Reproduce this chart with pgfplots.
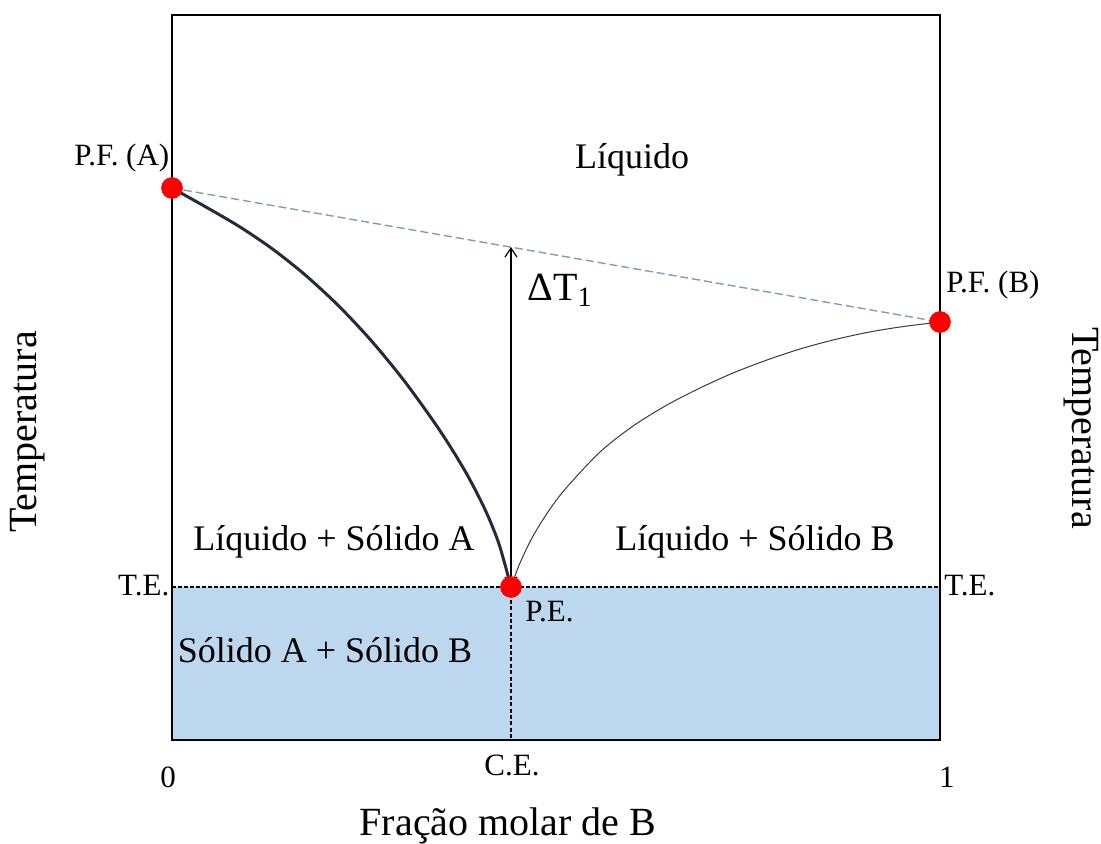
\documentclass[border=0pt]{standalone}
\usepackage{pgfplots}
\pgfplotsset{compat=1.18}
\usepackage{fontspec}
\setmainfont{Liberation Serif}
\usetikzlibrary{arrows.meta}

\definecolor{solidfill}{HTML}{BDD7EE}
\definecolor{tieline}{HTML}{7FA0AA}
\definecolor{curveA}{HTML}{262B3A}
\definecolor{curveB}{HTML}{3A3A3A}
\definecolor{pointred}{HTML}{FF0000}

\newcommand{\regionfont}{\fontsize{18}{20}\selectfont}
\newcommand{\labelfont}{\fontsize{15.5}{17}\selectfont}
\newcommand{\axisfont}{\fontsize{20}{22}\selectfont}

\begin{document}
\begin{tikzpicture}
\useasboundingbox (-86pt,-51.5pt) rectangle (464.5pt,370pt);
\begin{axis}[
  at={(0,0)}, anchor=south west,
  scale only axis,
  width=384pt, height=362.5pt,
  xmin=0, xmax=1, ymin=0, ymax=725,
  xtick=\empty, ytick=\empty,
  axis on top,
  axis line style={line width=1pt, black},
  clip=false,
]
% solid A + solid B region below the eutectic temperature
\addplot[fill=solidfill, draw=none] coordinates {(0,153) (1,153)} \closedcycle;

% eutectic temperature and composition
\addplot[black, line width=0.75pt, dash pattern=on 2pt off 1pt] coordinates {(0,153) (1,153)};
\addplot[black, line width=0.6pt, dash pattern=on 2pt off 1.2pt] coordinates {(0.4414,153) (0.4414,0)};

% line joining the melting points
\addplot[tieline, line width=0.7pt, dash pattern=on 4pt off 2pt] coordinates {(0,552) (1,418)};

% liquidus of A
\addplot[curveA, line width=1.5pt, smooth, tension=0.5] coordinates {
  (0,552) (0.043,533.5) (0.0872,513.7) (0.1302,491.4) (0.1732,465.2)
  (0.2174,433.8) (0.2604,398.5) (0.3034,358.1) (0.3477,310.7)
  (0.3815,269.1) (0.4076,230.5) (0.4258,195.9) (0.4414,153)
};

% liquidus of B
\addplot[curveB, line width=0.5pt, smooth, tension=0.5] coordinates {
  (0.4414,153) (0.4531,177) (0.4701,204) (0.4922,231) (0.5143,253)
  (0.5573,288) (0.6003,314) (0.6445,335) (0.6875,352) (0.7305,367)
  (0.7747,380) (0.8177,391) (0.8607,400) (0.9049,407.5) (0.9479,413) (1,418)
};

% melting points and eutectic point
\addplot[only marks, mark=*, mark size=5.2pt, pointred, mark options={draw=pointred, fill=pointred}]
  coordinates {(0,552) (1,418) (0.4414,153)};

% temperature depression
\addplot[black, line width=0.6pt,
  {Straight Barb[length=4.5pt,width=6pt]}-{Straight Barb[length=4.5pt,width=6pt]}]
  coordinates {(0.4414,153) (0.4414,493)};

% labels
\node[font=\regionfont] at (axis cs:0.599,580) {Líquido};
\node[font=\regionfont] at (axis cs:0.2109,198) {Líquido + Sólido A};
\node[font=\regionfont] at (axis cs:0.7591,198) {Líquido + Sólido B};
\node[font=\regionfont] at (axis cs:0.1992,90) {Sólido A + Sólido B};

\node[font=\labelfont, anchor=east, inner sep=0pt] at (axis cs:-0.003,582) {P.F. (A)};
\node[font=\labelfont, anchor=west, inner sep=0pt] at (axis cs:1.0078,455) {P.F. (B)};
\node[font=\axisfont, anchor=west, inner sep=0pt] at (axis cs:0.4622,450) {ΔT\textsubscript{1}};

\node[font=\labelfont, anchor=east, inner sep=0pt] at (axis cs:-0.003,154) {T.E.};
\node[font=\labelfont, anchor=west, inner sep=0pt] at (axis cs:1.005,154) {T.E.};
\node[font=\labelfont, anchor=west, inner sep=0pt] at (axis cs:0.4596,128) {P.E.};

\node[font=\labelfont] at (axis cs:-0.005,-37) {0};
\node[font=\labelfont] at (axis cs:1.009,-37) {1};
\node[font=\labelfont] at (axis cs:0.4427,-25) {C.E.};

\node[font=\axisfont] at (axis cs:0.4375,-86) {Fração molar de B};
\node[font=\axisfont, rotate=90] at (axis cs:-0.1875,308) {Temperatura};
\node[font=\axisfont, rotate=-90] at (axis cs:1.1836,312) {Temperatura};
\end{axis}
\end{tikzpicture}
\end{document}
